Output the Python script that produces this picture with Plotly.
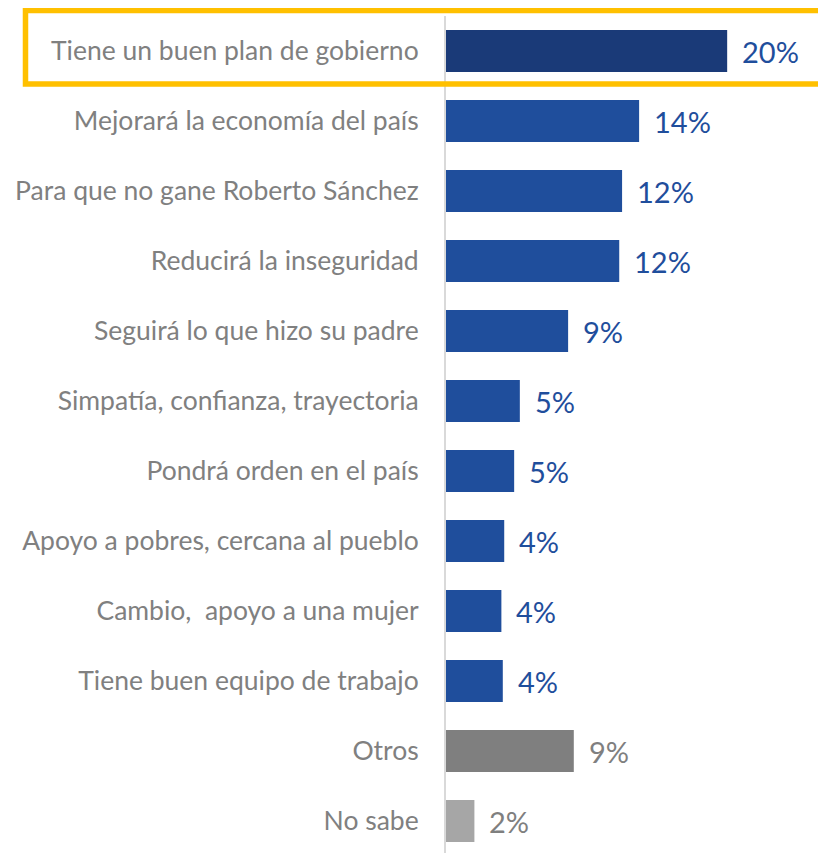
import plotly.graph_objects as go

categories = [
    "Tiene un buen plan de gobierno",
    "Mejorará la economía del país",
    "Para que no gane Roberto Sánchez",
    "Reducirá la inseguridad",
    "Seguirá lo que hizo su padre",
    "Simpatía, confianza, trayectoria",
    "Pondrá orden en el país",
    "Apoyo a pobres, cercana al pueblo",
    "Cambio,  apoyo a una mujer",
    "Tiene buen equipo de trabajo",
    "Otros",
    "No sabe",
]
values = [19.8, 13.6, 12.4, 12.2, 8.6, 5.2, 4.8, 4.1, 3.9, 4.0, 9.0, 2.0]
labels = ["20%", "14%", "12%", "12%", "9%", "5%", "5%", "4%", "4%", "4%", "9%", "2%"]
bar_colors = ["#1A3A78"] + ["#1F4E9C"] * 9 + ["#7F7F7F", "#A6A6A6"]
label_colors = ["#1F4E9C"] * 10 + ["#7F7F7F", "#7F7F7F"]

FONT = "Lato"

fig = go.Figure()
fig.add_trace(go.Bar(
    x=values,
    y=categories,
    orientation="h",
    marker=dict(color=bar_colors, line=dict(width=0)),
    hoverinfo="skip",
))

for cat, val, lab, col in zip(categories, values, labels, label_colors):
    fig.add_annotation(
        x=val, y=cat, text=lab, showarrow=False,
        xanchor="left", yanchor="middle", xshift=13,
        font=dict(family=FONT, size=29, color=col),
    )

# highlight box around the first category
fig.add_shape(
    type="rect", xref="paper", yref="paper",
    x0=-1.1066, x1=1.05, y0=0.9188, y1=1.0066,
    line=dict(color="#FFC000", width=5.5),
    fillcolor="rgba(0,0,0,0)",
)

fig.update_layout(
    width=818, height=845,
    margin=dict(l=438, r=0, t=8, b=0, autoexpand=False),
    paper_bgcolor="white", plot_bgcolor="white",
    bargap=0.4,
    showlegend=False,
    font=dict(family=FONT),
)
fig.update_xaxes(range=[0, 26.76], visible=False, showgrid=False,
                 zeroline=False, automargin=False)
fig.update_yaxes(
    range=[11.457, -0.5], automargin=False,
    showgrid=False, zeroline=False,
    showline=True, linecolor="#D9D9D9", linewidth=2,
    ticks="", ticklabelstandoff=20,
    tickfont=dict(family=FONT, size=26.5, color="#808080"),
)

fig.write_html("out.html")
